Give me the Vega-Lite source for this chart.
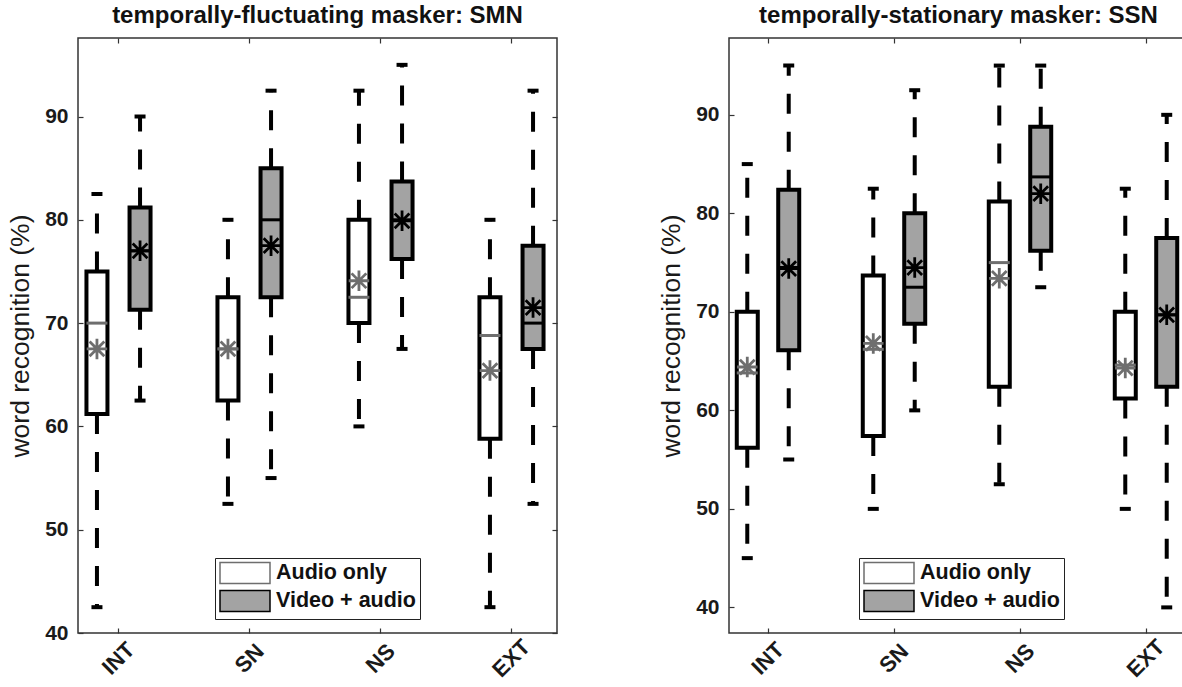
{
  "$schema": "https://vega.github.io/schema/vega-lite/v6.json",
  "padding": {"left": 6, "top": 3, "right": 0, "bottom": 0},
  "spacing": 54,
  "background": "white",
  "datasets": {
    "smn": [
      {"cond": "INT", "group": "Audio only", "lo": 42.5, "q1": 61.2, "med": 70, "q3": 75, "hi": 82.5, "mean": 67.5},
      {"cond": "INT", "group": "Video + audio", "lo": 62.5, "q1": 71.3, "med": 77, "q3": 81.2, "hi": 90, "mean": 77},
      {"cond": "SN", "group": "Audio only", "lo": 52.5, "q1": 62.5, "med": 67.5, "q3": 72.5, "hi": 80, "mean": 67.5},
      {"cond": "SN", "group": "Video + audio", "lo": 55, "q1": 72.5, "med": 80, "q3": 85, "hi": 92.5, "mean": 77.5},
      {"cond": "NS", "group": "Audio only", "lo": 60, "q1": 70, "med": 72.5, "q3": 80, "hi": 92.5, "mean": 74.1},
      {"cond": "NS", "group": "Video + audio", "lo": 67.5, "q1": 76.2, "med": 80, "q3": 83.7, "hi": 95, "mean": 79.9},
      {"cond": "EXT", "group": "Audio only", "lo": 42.5, "q1": 58.8, "med": 68.8, "q3": 72.5, "hi": 80, "mean": 65.4},
      {"cond": "EXT", "group": "Video + audio", "lo": 52.5, "q1": 67.5, "med": 70, "q3": 77.5, "hi": 92.5, "mean": 71.5}
    ],
    "ssn": [
      {"cond": "INT", "group": "Audio only", "lo": 45, "q1": 56.2, "med": 63.8, "q3": 70, "hi": 85, "mean": 64.4},
      {"cond": "INT", "group": "Video + audio", "lo": 55, "q1": 66.1, "med": 74.5, "q3": 82.4, "hi": 95, "mean": 74.4},
      {"cond": "SN", "group": "Audio only", "lo": 50, "q1": 57.4, "med": 66.2, "q3": 73.7, "hi": 82.5, "mean": 66.8},
      {"cond": "SN", "group": "Video + audio", "lo": 60, "q1": 68.8, "med": 72.5, "q3": 80, "hi": 92.5, "mean": 74.5},
      {"cond": "NS", "group": "Audio only", "lo": 52.5, "q1": 62.4, "med": 75, "q3": 81.2, "hi": 95, "mean": 73.4},
      {"cond": "NS", "group": "Video + audio", "lo": 72.5, "q1": 76.2, "med": 83.7, "q3": 88.8, "hi": 95, "mean": 82},
      {"cond": "EXT", "group": "Audio only", "lo": 50, "q1": 61.2, "med": 64.6, "q3": 70, "hi": 82.5, "mean": 64.3},
      {"cond": "EXT", "group": "Video + audio", "lo": 40, "q1": 62.4, "med": 69.7, "q3": 77.5, "hi": 90, "mean": 69.7}
    ]
  },
  "hconcat": [
    {
      "title": {"text": "temporally-fluctuating masker: SMN"},
      "width": 479,
      "height": 595,
      "data": {"name": "smn"},
      "encoding": {
        "x": {"field": "cond", "type": "nominal", "sort": ["INT", "SN", "NS", "EXT"],
              "scale": {"range": [-25, 499], "paddingInner": 0, "paddingOuter": 0}, "axis": null},
        "xOffset": {"field": "group", "type": "nominal", "scale": {"paddingInner": 0, "paddingOuter": 0.52}}
      },
      "layer": [
        {"mark": {"type": "tick", "opacity": 0},
         "encoding": {"x": {"field": "cond", "type": "nominal", "sort": ["INT", "SN", "NS", "EXT"],
                            "scale": {"range": [-25, 499], "paddingInner": 0, "paddingOuter": 0}, "axis": {"orient": "top", "labels": false, "title": null}},
                      "y": {"field": "med", "type": "quantitative", "axis": {"orient": "right", "values": [40, 50, 60, 70, 80, 90], "labels": false, "title": null}}}},
        {"mark": {"type": "rule", "strokeDash": [20, 18], "strokeWidth": 4, "color": "black"},
         "encoding": {"x": {"field": "cond", "type": "nominal", "sort": ["INT", "SN", "NS", "EXT"],
                            "scale": {"range": [-25, 499], "paddingInner": 0, "paddingOuter": 0}, "axis": {"title": null}},
                      "y": {"field": "q1", "type": "quantitative", "scale": {"domain": [40, 97.6], "nice": false, "zero": false},
                            "axis": {"values": [40, 50, 60, 70, 80, 90], "title": "word recognition (%)"}},
                      "y2": {"field": "lo"}}},
        {"mark": {"type": "rule", "strokeDash": [20, 18], "strokeWidth": 4, "color": "black"},
         "encoding": {"y": {"field": "q3", "type": "quantitative", "axis": null}, "y2": {"field": "hi"}}},
        {"mark": {"type": "tick", "orient": "horizontal", "size": 11, "thickness": 4, "color": "black", "opacity": 1},
         "encoding": {"y": {"field": "lo", "type": "quantitative", "axis": null}}},
        {"mark": {"type": "tick", "orient": "horizontal", "size": 11, "thickness": 4, "color": "black", "opacity": 1},
         "encoding": {"y": {"field": "hi", "type": "quantitative", "axis": null}}},
        {"mark": {"type": "bar", "width": 21, "stroke": "black", "strokeWidth": 4, "opacity": 1},
         "encoding": {"y": {"field": "q1", "type": "quantitative", "axis": null}, "y2": {"field": "q3"},
                      "fill": {"field": "group", "type": "nominal", "scale": {"domain": ["Audio only", "Video + audio"], "range": ["white", "#a3a3a3"]},
                               "legend": {"orient": "none", "legendX": 137, "legendY": 520}}}},
        {"mark": {"type": "tick", "orient": "horizontal", "size": 21, "thickness": 3, "opacity": 1},
         "encoding": {"y": {"field": "med", "type": "quantitative", "axis": null},
                      "color": {"field": "group", "type": "nominal", "scale": {"domain": ["Audio only", "Video + audio"], "range": ["#6e6e6e", "black"]}, "legend": null}}},
        {"mark": {"type": "point", "shape": "M0,-1L0,1M-1,0L1,0M-0.72,-0.72L0.72,0.72M-0.72,0.72L0.72,-0.72", "filled": false, "size": 420, "strokeWidth": 2.8, "opacity": 1},
         "encoding": {"y": {"field": "mean", "type": "quantitative", "axis": null},
                      "color": {"field": "group", "type": "nominal", "legend": null}}}
      ],
      "resolve": {"axis": {"x": "independent", "y": "independent"}}
    },
    {
      "title": {"text": "temporally-stationary masker: SSN"},
      "width": 459,
      "height": 595,
      "data": {"name": "ssn"},
      "encoding": {
        "x": {"field": "cond", "type": "nominal", "sort": ["INT", "SN", "NS", "EXT"],
              "scale": {"range": [-24, 480], "paddingInner": 0, "paddingOuter": 0}, "axis": null},
        "xOffset": {"field": "group", "type": "nominal", "scale": {"paddingInner": 0, "paddingOuter": 0.52}}
      },
      "layer": [
        {"mark": {"type": "tick", "opacity": 0},
         "encoding": {"x": {"field": "cond", "type": "nominal", "sort": ["INT", "SN", "NS", "EXT"],
                            "scale": {"range": [-24, 480], "paddingInner": 0, "paddingOuter": 0}, "axis": {"orient": "top", "labels": false, "title": null}},
                      "y": {"field": "med", "type": "quantitative", "axis": {"orient": "right", "values": [40, 50, 60, 70, 80, 90], "labels": false, "title": null}}}},
        {"mark": {"type": "rule", "strokeDash": [20, 18], "strokeWidth": 4, "color": "black"},
         "encoding": {"x": {"field": "cond", "type": "nominal", "sort": ["INT", "SN", "NS", "EXT"],
                            "scale": {"range": [-24, 480], "paddingInner": 0, "paddingOuter": 0}, "axis": {"title": null}},
                      "y": {"field": "q1", "type": "quantitative", "scale": {"domain": [37.4, 97.8], "nice": false, "zero": false},
                            "axis": {"values": [40, 50, 60, 70, 80, 90], "title": "word recognition (%)"}},
                      "y2": {"field": "lo"}}},
        {"mark": {"type": "rule", "strokeDash": [20, 18], "strokeWidth": 4, "color": "black"},
         "encoding": {"y": {"field": "q3", "type": "quantitative", "axis": null}, "y2": {"field": "hi"}}},
        {"mark": {"type": "tick", "orient": "horizontal", "size": 11, "thickness": 4, "color": "black", "opacity": 1},
         "encoding": {"y": {"field": "lo", "type": "quantitative", "axis": null}}},
        {"mark": {"type": "tick", "orient": "horizontal", "size": 11, "thickness": 4, "color": "black", "opacity": 1},
         "encoding": {"y": {"field": "hi", "type": "quantitative", "axis": null}}},
        {"mark": {"type": "bar", "width": 21, "stroke": "black", "strokeWidth": 4, "opacity": 1},
         "encoding": {"y": {"field": "q1", "type": "quantitative", "axis": null}, "y2": {"field": "q3"},
                      "fill": {"field": "group", "type": "nominal", "scale": {"domain": ["Audio only", "Video + audio"], "range": ["white", "#a3a3a3"]},
                               "legend": {"orient": "none", "legendX": 130, "legendY": 520}}}},
        {"mark": {"type": "tick", "orient": "horizontal", "size": 21, "thickness": 3, "opacity": 1},
         "encoding": {"y": {"field": "med", "type": "quantitative", "axis": null},
                      "color": {"field": "group", "type": "nominal", "scale": {"domain": ["Audio only", "Video + audio"], "range": ["#6e6e6e", "black"]}, "legend": null}}},
        {"mark": {"type": "point", "shape": "M0,-1L0,1M-1,0L1,0M-0.72,-0.72L0.72,0.72M-0.72,0.72L0.72,-0.72", "filled": false, "size": 420, "strokeWidth": 2.8, "opacity": 1},
         "encoding": {"y": {"field": "mean", "type": "quantitative", "axis": null},
                      "color": {"field": "group", "type": "nominal", "legend": null}}}
      ],
      "resolve": {"axis": {"x": "independent", "y": "independent"}}
    }
  ],
  "resolve": {"scale": {"fill": "independent", "color": "independent", "xOffset": "independent"}},
  "config": {
    "font": "Liberation Sans",
    "view": {"stroke": "#333333", "strokeWidth": 1.5},
    "title": {"fontSize": 24, "fontWeight": "bold", "color": "#111111", "offset": 9, "anchor": "middle"},
    "axis": {"domain": false, "grid": false, "tickSize": -5, "tickColor": "#333333", "tickWidth": 1.2,
             "labelFontSize": 21, "labelFontWeight": "bold", "labelColor": "#1a1a1a",
             "titleFontSize": 26.5, "titleFontWeight": "normal", "titleColor": "#1a1a1a"},
    "axisY": {"labelPadding": 15, "titlePadding": 10},
    "axisX": {"labelAngle": -45, "labelAlign": "center", "labelBaseline": "middle", "labelPadding": 30, "labelFontSize": 22},
    "legend": {"title": null, "symbolType": "M-1,-1.05H4V1.05H-1Z", "symbolSize": 400, "symbolStrokeColor": "#555555", "symbolStrokeWidth": 1.5,
               "labelFontSize": 21.5, "labelFontWeight": "bold", "labelColor": "#111111", "labelOffset": 35,
               "strokeColor": "#222222", "fillColor": "white", "padding": 4, "rowPadding": 0, "symbolOpacity": 1}
  }
}
